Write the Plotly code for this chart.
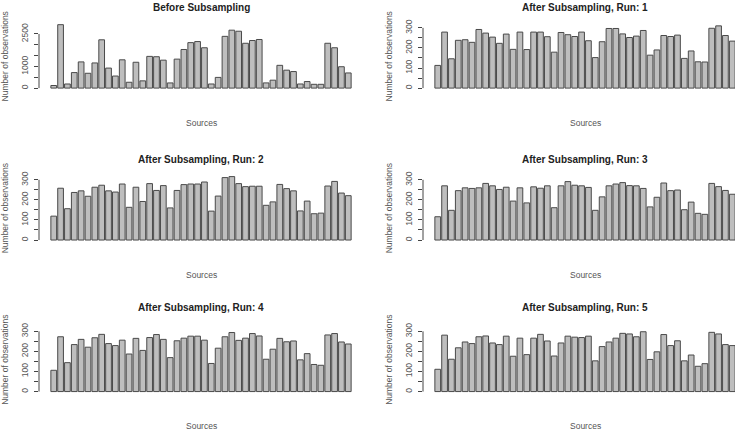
import plotly.graph_objects as go

W, H = 735, 430

sources = list(range(1, 45))

before = [120, 2930, 190, 717, 1210, 685, 1162, 2230, 924, 557, 1306, 270, 1194, 334, 1465,
          1449, 1290, 239, 1338, 1783, 2100, 2150, 1863, 190, 494, 2390, 2675, 2627, 2070,
          2197, 2245, 240, 366, 1051, 828, 764, 190, 302, 175, 175, 2070, 1863, 987, 700]
run1 = [113, 279, 146, 238, 241, 228, 292, 274, 254, 223, 269, 193, 279, 192, 279, 279, 256,
        179, 277, 266, 257, 279, 236, 152, 231, 297, 297, 270, 252, 259, 287, 164, 190, 262,
        257, 264, 148, 185, 131, 130, 298, 310, 262, 234]
run2 = [119, 258, 156, 237, 245, 218, 263, 273, 245, 239, 279, 163, 263, 192, 281, 247, 271,
        160, 247, 276, 279, 279, 289, 144, 219, 311, 316, 281, 266, 268, 268, 173, 190, 277,
        256, 245, 145, 194, 131, 134, 269, 292, 234, 221]
run3 = [116, 270, 148, 246, 260, 257, 260, 282, 270, 252, 263, 194, 260, 185, 265, 258, 270,
        161, 270, 291, 273, 270, 262, 148, 215, 270, 279, 286, 271, 270, 257, 165, 213, 284,
        246, 249, 151, 189, 133, 128, 282, 266, 247, 228]
run4 = [106, 273, 144, 234, 260, 221, 268, 285, 239, 229, 256, 187, 265, 205, 269, 284, 260,
        169, 253, 266, 276, 276, 256, 140, 216, 273, 294, 255, 266, 289, 277, 161, 211, 265,
        248, 252, 158, 189, 135, 131, 282, 289, 247, 237]
run5 = [111, 281, 161, 218, 247, 239, 273, 277, 242, 234, 276, 176, 266, 184, 266, 285, 252,
        177, 242, 276, 271, 269, 276, 153, 224, 247, 266, 290, 287, 273, 298, 160, 198, 284,
        229, 253, 153, 182, 126, 139, 295, 287, 234, 229]

titles = ["Before Subsampling", "After Subsampling, Run: 1", "After Subsampling, Run: 2",
          "After Subsampling, Run: 3", "After Subsampling, Run: 4", "After Subsampling, Run: 5"]
series = [before, run1, run2, run3, run4, run5]

before_ticks = [0, 500, 1000, 1500, 2000, 2500]
before_ticktext = ["0", "", "1000", "", "", "2500"]
run_ticks = [0, 50, 100, 150, 200, 250, 300]
run_ticktext = ["0", "", "100", "", "200", "", "300"]

x_label = "Sources"
y_label = "Number of observations"

# layout geometry (pixels)
col_left = [39, 423]
region_w = 324
region_h = 69
baselines = [85.7, 238.7, 391.3]
title_y = [5, 158, 307]
xlab_y = [121, 274, 426]

fig = go.Figure()
run_max = max(max(s) for s in series[1:])

bar_fill = "#bebebe"
bar_edge = "#4a4a4a"
text_col = "#555555"

for i, (vals, title) in enumerate(zip(series, titles)):
    r, c = divmod(i, 2)
    k = "" if i == 0 else str(i + 1)
    xl = col_left[c]
    xr = min(xl + region_w, W)
    bottom = baselines[r] + 0.04 / 1.08 * region_h
    top = bottom - region_h
    n = len(vals)
    lo = 0.6 - 1.75
    span = (n + 0.4 - 0.6) + 3.5
    hi = lo + span * (xr - xl) / region_w

    m = max(vals) if i == 0 else run_max
    fig.add_trace(go.Bar(x=sources, y=vals, xaxis="x" + k, yaxis="y" + k,
                         marker=dict(color=bar_fill, line=dict(color=bar_edge, width=1)),
                         showlegend=False, hoverinfo="x+y"))
    fig.layout["xaxis" + k] = dict(domain=[xl / W, xr / W], range=[lo, hi], visible=False,
                                   anchor="y" + k)
    tv = before_ticks if i == 0 else run_ticks
    tt = before_ticktext if i == 0 else run_ticktext
    fig.layout["yaxis" + k] = dict(domain=[1 - bottom / H, 1 - top / H],
                                   range=[-0.04 * m, 1.04 * m], anchor="x" + k,
                                   showgrid=False, zeroline=False, showline=False,
                                   tickvals=tv, ticktext=tt, ticks="outside", ticklen=4,
                                   tickcolor="#444444", tickwidth=1, tickangle=-90,
                                   ticklabelstandoff=3,
                                   tickfont=dict(size=8.5, color=text_col,
                                                 family="Liberation Sans, Arial"))
    fig.add_shape(type="line", xref="x" + k + " domain", yref="y" + k,
                  x0=0, x1=0, y0=tv[0], y1=tv[-1], line=dict(color="#444444", width=1))
    cx = (xl + region_w / 2) / W
    fig.add_annotation(text="<b>" + title + "</b>", xref="paper", yref="paper",
                       x=cx, y=1 - title_y[r] / H, showarrow=False,
                       xanchor="center", yanchor="middle",
                       font=dict(size=10, color="#222222", family="Liberation Sans, Arial"))
    fig.add_annotation(text=x_label, xref="paper", yref="paper",
                       x=cx, y=1 - xlab_y[r] / H, showarrow=False,
                       xanchor="center", yanchor="middle",
                       font=dict(size=8.5, color=text_col, family="Liberation Sans, Arial"))
    fig.add_annotation(text=y_label, xref="paper", yref="paper", textangle=-90,
                       x=(xl - 34) / W, y=1 - (top + bottom) / 2 / H, showarrow=False,
                       xanchor="center", yanchor="middle",
                       font=dict(size=8.5, color=text_col, family="Liberation Sans, Arial"))

fig.update_layout(width=W, height=H, margin=dict(l=0, r=0, t=0, b=0),
                  paper_bgcolor="white", plot_bgcolor="white", bargap=0.2 / 1.2,
                  font=dict(family="Liberation Sans, Arial"))

fig.write_html("out.html", config={"displayModeBar": False},
               post_script="document.body.style.margin='0';document.body.style.overflow='hidden';")
